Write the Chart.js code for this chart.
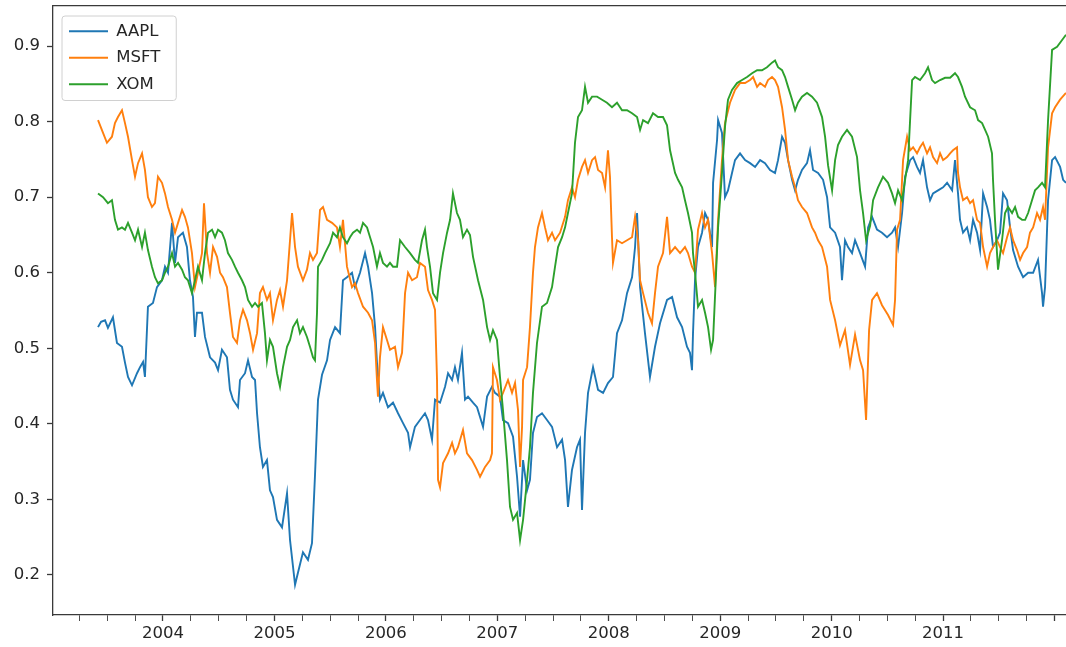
<!DOCTYPE html>
<html lang="en">
<head>
    <meta charset="UTF-8">
    <title>Rolling correlation</title>
    <script src="https://cdn.jsdelivr.net/npm/chart.js"></script>
    <style>
        body {
            margin: 0;
            background: #ffffff;
            overflow: hidden;
        }
        canvas {
            display: block;
        }
    </style>
</head>
<body>
<canvas id="corrChart" width="1066" height="647"></canvas>

<script>
    // [year, correlation]
    const aapl = [[2003.417,0.528],[2003.444,0.535],[2003.480,0.537],[2003.506,0.527],[2003.551,0.541],[2003.587,0.507],[2003.632,0.502],[2003.659,0.481],[2003.686,0.462],[2003.722,0.451],[2003.767,0.467],[2003.794,0.475],[2003.821,0.482],[2003.838,0.462],[2003.865,0.555],[2003.910,0.560],[2003.946,0.581],[2003.991,0.590],[2004.018,0.608],[2004.045,0.600],[2004.081,0.666],[2004.108,0.613],[2004.135,0.647],[2004.179,0.653],[2004.215,0.634],[2004.242,0.590],[2004.269,0.568],[2004.287,0.515],[2004.305,0.547],[2004.350,0.547],[2004.377,0.515],[2004.422,0.488],[2004.467,0.481],[2004.494,0.471],[2004.529,0.498],[2004.574,0.488],[2004.601,0.445],[2004.628,0.432],[2004.673,0.422],[2004.691,0.458],[2004.736,0.467],[2004.763,0.484],[2004.799,0.462],[2004.826,0.458],[2004.844,0.414],[2004.870,0.369],[2004.897,0.343],[2004.933,0.352],[2004.960,0.312],[2004.987,0.303],[2005.023,0.273],[2005.068,0.263],[2005.113,0.308],[2005.140,0.246],[2005.185,0.187],[2005.211,0.203],[2005.256,0.230],[2005.301,0.220],[2005.337,0.242],[2005.364,0.332],[2005.391,0.432],[2005.427,0.465],[2005.472,0.484],[2005.499,0.511],[2005.544,0.528],[2005.588,0.520],[2005.615,0.590],[2005.651,0.594],[2005.696,0.600],[2005.723,0.581],[2005.768,0.600],[2005.813,0.626],[2005.840,0.608],[2005.876,0.573],[2005.903,0.528],[2005.920,0.481],[2005.947,0.432],[2005.974,0.441],[2006.019,0.422],[2006.064,0.428],[2006.109,0.414],[2006.154,0.401],[2006.199,0.388],[2006.217,0.369],[2006.261,0.396],[2006.306,0.405],[2006.351,0.414],[2006.378,0.405],[2006.414,0.379],[2006.441,0.432],[2006.486,0.428],[2006.531,0.449],[2006.558,0.467],[2006.594,0.458],[2006.620,0.475],[2006.647,0.458],[2006.683,0.494],[2006.710,0.432],[2006.737,0.436],[2006.782,0.428],[2006.818,0.422],[2006.872,0.396],[2006.908,0.436],[2006.952,0.449],[2006.979,0.441],[2007.024,0.436],[2007.051,0.405],[2007.096,0.401],[2007.141,0.383],[2007.177,0.330],[2007.204,0.277],[2007.231,0.352],[2007.267,0.312],[2007.293,0.326],[2007.320,0.388],[2007.356,0.409],[2007.401,0.414],[2007.446,0.405],[2007.491,0.396],[2007.536,0.369],[2007.581,0.379],[2007.608,0.352],[2007.634,0.290],[2007.670,0.339],[2007.715,0.369],[2007.742,0.379],[2007.760,0.286],[2007.787,0.388],[2007.814,0.441],[2007.859,0.475],[2007.904,0.445],[2007.949,0.441],[2007.993,0.454],[2008.038,0.462],[2008.074,0.520],[2008.119,0.537],[2008.164,0.573],[2008.209,0.594],[2008.236,0.634],[2008.254,0.679],[2008.281,0.581],[2008.325,0.520],[2008.370,0.462],[2008.415,0.502],[2008.460,0.533],[2008.523,0.564],[2008.568,0.568],[2008.613,0.541],[2008.658,0.528],[2008.702,0.502],[2008.729,0.494],[2008.747,0.471],[2008.756,0.520],[2008.774,0.590],[2008.801,0.634],[2008.837,0.653],[2008.864,0.679],[2008.891,0.670],[2008.927,0.634],[2008.936,0.719],[2008.972,0.776],[2008.981,0.802],[2009.016,0.785],[2009.043,0.700],[2009.070,0.709],[2009.106,0.732],[2009.133,0.749],[2009.178,0.758],[2009.223,0.749],[2009.268,0.745],[2009.313,0.740],[2009.358,0.749],[2009.402,0.745],[2009.447,0.736],[2009.492,0.732],[2009.519,0.749],[2009.555,0.780],[2009.582,0.772],[2009.609,0.749],[2009.645,0.723],[2009.672,0.709],[2009.698,0.723],[2009.734,0.736],[2009.779,0.745],[2009.806,0.762],[2009.833,0.736],[2009.878,0.732],[2009.923,0.723],[2009.959,0.700],[2009.986,0.660],[2010.031,0.653],[2010.075,0.634],[2010.093,0.590],[2010.120,0.643],[2010.147,0.634],[2010.183,0.626],[2010.210,0.643],[2010.255,0.626],[2010.300,0.608],[2010.327,0.660],[2010.363,0.674],[2010.407,0.657],[2010.452,0.653],[2010.497,0.647],[2010.542,0.653],[2010.569,0.660],[2010.596,0.634],[2010.632,0.679],[2010.659,0.727],[2010.704,0.749],[2010.731,0.753],[2010.766,0.740],[2010.793,0.732],[2010.820,0.749],[2010.856,0.713],[2010.883,0.696],[2010.910,0.705],[2010.955,0.709],[2011.000,0.713],[2011.036,0.719],[2011.081,0.709],[2011.107,0.749],[2011.134,0.705],[2011.152,0.670],[2011.179,0.653],[2011.215,0.660],[2011.242,0.643],[2011.269,0.670],[2011.305,0.653],[2011.332,0.630],[2011.359,0.705],[2011.395,0.687],[2011.421,0.670],[2011.448,0.634],[2011.484,0.643],[2011.511,0.653],[2011.538,0.705],[2011.574,0.696],[2011.601,0.660],[2011.628,0.630],[2011.673,0.608],[2011.718,0.594],[2011.763,0.600],[2011.808,0.600],[2011.852,0.617],[2011.888,0.573],[2011.897,0.555],[2011.915,0.581],[2011.942,0.696],[2011.978,0.749],[2012.005,0.753],[2012.050,0.740],[2012.077,0.723],[2012.103,0.719]];

    const msft = [[2003.417,0.802],[2003.462,0.785],[2003.497,0.772],[2003.542,0.780],[2003.569,0.798],[2003.596,0.806],[2003.632,0.815],[2003.659,0.798],[2003.686,0.780],[2003.722,0.749],[2003.749,0.727],[2003.776,0.745],[2003.812,0.758],[2003.838,0.736],[2003.865,0.700],[2003.901,0.687],[2003.928,0.692],[2003.955,0.727],[2003.991,0.719],[2004.018,0.705],[2004.045,0.687],[2004.081,0.670],[2004.108,0.653],[2004.135,0.666],[2004.171,0.683],[2004.197,0.674],[2004.224,0.660],[2004.260,0.626],[2004.287,0.581],[2004.314,0.600],[2004.350,0.626],[2004.368,0.692],[2004.395,0.626],[2004.422,0.600],[2004.449,0.634],[2004.485,0.621],[2004.512,0.600],[2004.538,0.594],[2004.574,0.581],[2004.601,0.547],[2004.628,0.515],[2004.664,0.507],[2004.691,0.537],[2004.718,0.551],[2004.754,0.537],[2004.781,0.520],[2004.808,0.498],[2004.844,0.520],[2004.870,0.573],[2004.897,0.581],[2004.933,0.564],[2004.960,0.573],[2004.987,0.537],[2005.023,0.564],[2005.050,0.577],[2005.077,0.555],[2005.113,0.590],[2005.158,0.679],[2005.185,0.634],[2005.211,0.608],[2005.256,0.590],[2005.292,0.604],[2005.319,0.626],[2005.346,0.617],[2005.382,0.626],[2005.409,0.683],[2005.436,0.687],[2005.472,0.670],[2005.517,0.666],[2005.561,0.660],[2005.588,0.634],[2005.615,0.670],[2005.651,0.608],[2005.696,0.581],[2005.723,0.586],[2005.750,0.573],[2005.795,0.555],[2005.840,0.547],[2005.876,0.537],[2005.903,0.507],[2005.920,0.458],[2005.929,0.436],[2005.947,0.488],[2005.974,0.528],[2006.010,0.511],[2006.037,0.498],[2006.082,0.502],[2006.109,0.475],[2006.145,0.494],[2006.172,0.573],[2006.199,0.600],[2006.235,0.590],[2006.279,0.594],[2006.306,0.613],[2006.351,0.608],[2006.378,0.577],[2006.414,0.564],[2006.441,0.551],[2006.459,0.458],[2006.468,0.326],[2006.486,0.316],[2006.513,0.348],[2006.558,0.361],[2006.594,0.375],[2006.620,0.361],[2006.647,0.369],[2006.692,0.392],[2006.728,0.361],[2006.773,0.352],[2006.818,0.339],[2006.845,0.330],[2006.890,0.343],[2006.935,0.352],[2006.952,0.361],[2006.961,0.475],[2006.997,0.458],[2007.024,0.432],[2007.051,0.441],[2007.096,0.458],[2007.132,0.441],[2007.159,0.454],[2007.186,0.418],[2007.204,0.343],[2007.222,0.396],[2007.231,0.458],[2007.267,0.475],[2007.293,0.528],[2007.320,0.600],[2007.338,0.634],[2007.365,0.660],[2007.401,0.679],[2007.428,0.660],[2007.455,0.643],[2007.491,0.653],[2007.518,0.643],[2007.563,0.653],[2007.608,0.674],[2007.634,0.696],[2007.670,0.713],[2007.697,0.700],[2007.724,0.723],[2007.760,0.740],[2007.787,0.749],[2007.814,0.732],[2007.850,0.749],[2007.877,0.753],[2007.904,0.736],[2007.940,0.732],[2007.967,0.713],[2007.993,0.762],[2008.011,0.727],[2008.029,0.647],[2008.038,0.613],[2008.074,0.643],[2008.119,0.639],[2008.164,0.643],[2008.209,0.647],[2008.236,0.674],[2008.263,0.643],[2008.281,0.590],[2008.308,0.573],[2008.352,0.547],[2008.388,0.533],[2008.415,0.573],[2008.442,0.608],[2008.487,0.626],[2008.523,0.674],[2008.550,0.626],[2008.595,0.634],[2008.640,0.626],[2008.684,0.634],[2008.711,0.626],[2008.747,0.608],[2008.774,0.600],[2008.801,0.657],[2008.837,0.679],[2008.864,0.660],[2008.891,0.670],[2008.927,0.626],[2008.954,0.581],[2008.981,0.670],[2009.016,0.749],[2009.043,0.798],[2009.088,0.825],[2009.133,0.842],[2009.178,0.851],[2009.223,0.851],[2009.268,0.855],[2009.295,0.859],[2009.331,0.846],[2009.358,0.851],[2009.402,0.846],[2009.429,0.855],[2009.465,0.859],[2009.492,0.855],[2009.519,0.846],[2009.555,0.819],[2009.582,0.789],[2009.609,0.749],[2009.645,0.727],[2009.672,0.713],[2009.698,0.696],[2009.734,0.687],[2009.779,0.679],[2009.824,0.660],[2009.851,0.653],[2009.878,0.643],[2009.914,0.634],[2009.959,0.608],[2009.986,0.564],[2010.031,0.537],[2010.075,0.504],[2010.120,0.524],[2010.165,0.478],[2010.210,0.518],[2010.255,0.484],[2010.282,0.471],[2010.309,0.405],[2010.336,0.524],[2010.363,0.564],[2010.407,0.573],[2010.452,0.557],[2010.506,0.544],[2010.551,0.531],[2010.569,0.564],[2010.587,0.657],[2010.614,0.670],[2010.641,0.749],[2010.677,0.780],[2010.704,0.762],[2010.731,0.766],[2010.766,0.758],[2010.793,0.766],[2010.820,0.772],[2010.856,0.758],[2010.883,0.766],[2010.910,0.753],[2010.946,0.745],[2010.973,0.758],[2011.000,0.749],[2011.036,0.753],[2011.063,0.758],[2011.089,0.762],[2011.125,0.766],[2011.134,0.732],[2011.152,0.713],[2011.179,0.696],[2011.215,0.700],[2011.242,0.692],[2011.269,0.696],[2011.305,0.670],[2011.332,0.666],[2011.359,0.634],[2011.395,0.608],[2011.421,0.626],[2011.448,0.634],[2011.484,0.643],[2011.511,0.634],[2011.538,0.626],[2011.574,0.647],[2011.601,0.660],[2011.628,0.643],[2011.664,0.630],[2011.691,0.617],[2011.718,0.626],[2011.754,0.634],[2011.780,0.653],[2011.808,0.660],[2011.843,0.679],[2011.870,0.670],[2011.897,0.687],[2011.915,0.670],[2011.942,0.766],[2011.978,0.811],[2012.005,0.819],[2012.050,0.829],[2012.103,0.838]];

    const xom = [[2003.417,0.705],[2003.462,0.700],[2003.506,0.692],[2003.542,0.696],[2003.569,0.670],[2003.596,0.657],[2003.632,0.660],[2003.659,0.657],[2003.686,0.666],[2003.722,0.653],[2003.749,0.643],[2003.776,0.657],[2003.812,0.634],[2003.838,0.653],[2003.865,0.630],[2003.901,0.608],[2003.928,0.594],[2003.955,0.586],[2003.991,0.590],[2004.018,0.600],[2004.045,0.608],[2004.081,0.626],[2004.108,0.608],[2004.135,0.613],[2004.171,0.604],[2004.197,0.594],[2004.224,0.590],[2004.260,0.573],[2004.287,0.590],[2004.314,0.608],[2004.350,0.590],[2004.377,0.626],[2004.404,0.653],[2004.440,0.657],[2004.467,0.647],[2004.494,0.657],[2004.529,0.653],[2004.556,0.643],[2004.583,0.626],[2004.619,0.617],[2004.646,0.608],[2004.673,0.600],[2004.709,0.590],[2004.736,0.581],[2004.763,0.564],[2004.799,0.555],[2004.826,0.560],[2004.853,0.555],[2004.888,0.560],[2004.915,0.520],[2004.933,0.484],[2004.960,0.511],[2004.987,0.502],[2005.023,0.467],[2005.050,0.449],[2005.077,0.475],[2005.113,0.502],[2005.140,0.511],[2005.167,0.528],[2005.203,0.537],[2005.229,0.520],[2005.256,0.528],[2005.292,0.515],[2005.319,0.502],[2005.346,0.488],[2005.364,0.484],[2005.382,0.547],[2005.391,0.608],[2005.427,0.617],[2005.454,0.626],[2005.499,0.639],[2005.526,0.653],[2005.561,0.647],[2005.588,0.660],[2005.615,0.647],[2005.651,0.639],[2005.678,0.647],[2005.705,0.653],[2005.741,0.657],[2005.768,0.653],[2005.795,0.666],[2005.831,0.660],[2005.858,0.647],[2005.885,0.634],[2005.920,0.608],[2005.947,0.626],[2005.974,0.613],[2006.010,0.608],[2006.037,0.613],[2006.064,0.608],[2006.100,0.608],[2006.127,0.643],[2006.172,0.634],[2006.217,0.626],[2006.261,0.617],[2006.288,0.613],[2006.324,0.643],[2006.351,0.657],[2006.369,0.634],[2006.396,0.608],[2006.423,0.573],[2006.459,0.564],[2006.486,0.600],[2006.513,0.626],[2006.549,0.653],[2006.576,0.670],[2006.602,0.705],[2006.638,0.679],[2006.665,0.670],[2006.692,0.647],[2006.728,0.657],[2006.755,0.650],[2006.782,0.621],[2006.827,0.590],[2006.872,0.564],[2006.908,0.528],[2006.935,0.511],[2006.961,0.524],[2006.997,0.511],[2007.024,0.462],[2007.051,0.418],[2007.087,0.352],[2007.114,0.290],[2007.141,0.273],[2007.177,0.282],[2007.204,0.246],[2007.231,0.273],[2007.267,0.326],[2007.293,0.369],[2007.320,0.441],[2007.356,0.507],[2007.401,0.555],[2007.446,0.560],[2007.491,0.581],[2007.518,0.608],[2007.545,0.634],[2007.581,0.647],[2007.608,0.660],[2007.634,0.679],[2007.670,0.705],[2007.697,0.772],[2007.724,0.806],[2007.760,0.815],[2007.787,0.846],[2007.814,0.825],[2007.850,0.833],[2007.895,0.833],[2007.940,0.829],[2007.984,0.825],[2008.029,0.819],[2008.074,0.825],[2008.119,0.815],[2008.164,0.815],[2008.209,0.811],[2008.254,0.806],[2008.281,0.789],[2008.308,0.802],[2008.352,0.798],[2008.397,0.811],[2008.442,0.806],[2008.487,0.806],[2008.523,0.795],[2008.550,0.762],[2008.595,0.732],[2008.622,0.723],[2008.658,0.713],[2008.684,0.696],[2008.711,0.679],[2008.747,0.653],[2008.756,0.626],[2008.774,0.600],[2008.801,0.555],[2008.837,0.564],[2008.864,0.547],[2008.891,0.528],[2008.918,0.498],[2008.936,0.511],[2008.963,0.600],[2008.981,0.660],[2009.016,0.732],[2009.043,0.793],[2009.070,0.829],[2009.106,0.842],[2009.151,0.851],[2009.196,0.855],[2009.241,0.859],[2009.286,0.864],[2009.331,0.868],[2009.375,0.868],[2009.420,0.872],[2009.465,0.878],[2009.492,0.881],[2009.519,0.872],[2009.555,0.868],[2009.582,0.859],[2009.609,0.846],[2009.645,0.829],[2009.672,0.815],[2009.698,0.825],[2009.734,0.833],[2009.779,0.838],[2009.824,0.833],[2009.869,0.825],[2009.914,0.806],[2009.941,0.780],[2009.968,0.742],[2010.004,0.709],[2010.031,0.749],[2010.057,0.769],[2010.093,0.780],[2010.138,0.789],[2010.183,0.780],[2010.228,0.753],[2010.255,0.709],[2010.282,0.679],[2010.309,0.643],[2010.345,0.662],[2010.372,0.696],[2010.416,0.713],[2010.461,0.727],[2010.506,0.719],[2010.542,0.705],[2010.569,0.692],[2010.596,0.709],[2010.632,0.696],[2010.659,0.723],[2010.686,0.749],[2010.722,0.855],[2010.748,0.859],[2010.793,0.855],[2010.838,0.864],[2010.865,0.872],[2010.901,0.855],[2010.928,0.851],[2010.973,0.855],[2011.018,0.858],[2011.063,0.858],[2011.107,0.864],[2011.134,0.859],[2011.170,0.846],[2011.197,0.833],[2011.242,0.819],[2011.287,0.815],[2011.314,0.802],[2011.350,0.798],[2011.377,0.789],[2011.404,0.780],[2011.439,0.758],[2011.448,0.723],[2011.466,0.670],[2011.484,0.626],[2011.493,0.604],[2011.529,0.643],[2011.556,0.679],[2011.583,0.687],[2011.619,0.679],[2011.646,0.687],[2011.673,0.674],[2011.709,0.670],[2011.736,0.670],[2011.763,0.679],[2011.798,0.696],[2011.825,0.709],[2011.852,0.713],[2011.888,0.719],[2011.915,0.713],[2011.942,0.802],[2011.978,0.895],[2012.023,0.899],[2012.068,0.908],[2012.103,0.915]];

    const seriesNames = ['AAPL', 'MSFT', 'XOM'];
    const yearLabels = [2004, 2005, 2006, 2007, 2008, 2009, 2010, 2011];
    const yTickValues = [0.2, 0.3, 0.4, 0.5, 0.6, 0.7, 0.8, 0.9];
    const xRange = [2003.013, 2012.103];
    const yRange = [0.147, 0.953];

    const fontFamily = "'DejaVu Sans', sans-serif";
    const axisColor = '#3a3a3a';
    const textColor = '#262626';

    // quarterly minor ticks, years get a label
    const quarterTicks = [];
    for (let q = 2003.25; q <= 2012.0001; q += 0.25) {
        quarterTicks.push(Math.round(q * 100) / 100);
    }

    const legendFrame = {
        id: 'legendFrame',
        afterLayout(chart) {
            const area = chart.chartArea;
            chart.legend.left = area.left + 6;
            chart.legend.top = area.top + 7;
        },
        beforeDraw(chart) {
            const boxes = chart.legend.legendHitBoxes;
            if (!boxes || !boxes.length) return;
            const first = boxes[0];
            const last = boxes[boxes.length - 1];
            const right = Math.max(...boxes.map(b => b.left + b.width));
            const ctx = chart.ctx;
            ctx.save();
            ctx.beginPath();
            ctx.roundRect(first.left - 7, first.top - 7, right - first.left + 23, last.top + last.height - first.top + 15, 3);
            ctx.fillStyle = 'rgba(255,255,255,0.8)';
            ctx.fill();
            ctx.strokeStyle = '#d0d0d0';
            ctx.lineWidth = 1;
            ctx.stroke();
            ctx.restore();
        }
    };

    const colors = ['#1f77b4', '#ff7f0e', '#2ca02c'];
    const values = [aapl, msft, xom];

    new Chart(document.getElementById('corrChart').getContext('2d'), {
        type: 'line',
        data: {
            datasets: values.map((data, i) => ({
                label: seriesNames[i],
                data: data,
                borderColor: colors[i],
                backgroundColor: colors[i],
                borderWidth: 1.9,
                pointRadius: 0,
                tension: 0,
                order: values.length - i
            }))
        },
        options: {
            responsive: false,
            animation: false,
            devicePixelRatio: 1,
            events: [],
            layout: { padding: 0 },
            scales: {
                x: {
                    type: 'linear',
                    position: 'bottom',
                    min: xRange[0],
                    max: xRange[1],
                    afterBuildTicks: scale => {
                        scale.ticks = quarterTicks.map(v => ({ value: v }));
                    },
                    afterFit: scale => {
                        scale.height = 32;
                        scale.paddingLeft = 0;
                        scale.paddingRight = 0;
                    },
                    grid: {
                        drawOnChartArea: false,
                        drawTicks: true,
                        tickLength: 6,
                        tickColor: axisColor,
                        tickWidth: c => Number.isInteger(c.tick && c.tick.value) ? 1.3 : 0.9
                    },
                    border: { color: axisColor, width: 1.3 },
                    ticks: {
                        autoSkip: false,
                        maxRotation: 0,
                        padding: 3,
                        color: textColor,
                        font: { family: fontFamily, size: 16.5 },
                        callback: v => yearLabels.includes(v) ? String(v) : ''
                    }
                },
                xTop: {
                    type: 'linear',
                    axis: 'x',
                    position: 'top',
                    display: true,
                    min: xRange[0],
                    max: xRange[1],
                    afterFit: scale => {
                        scale.height = 6;
                        scale.paddingLeft = 0;
                        scale.paddingRight = 0;
                    },
                    grid: { display: false, drawTicks: false },
                    ticks: { display: false },
                    border: { display: true, color: axisColor, width: 1.3 }
                },
                y: {
                    min: yRange[0],
                    max: yRange[1],
                    afterBuildTicks: scale => {
                        scale.ticks = yTickValues.map(v => ({ value: v }));
                    },
                    afterFit: scale => {
                        scale.width = 53;
                        scale.paddingTop = 0;
                        scale.paddingBottom = 0;
                    },
                    grid: {
                        drawOnChartArea: false,
                        tickLength: 6,
                        tickColor: axisColor,
                        tickWidth: 1.3
                    },
                    border: { color: axisColor, width: 1.3 },
                    ticks: {
                        padding: 7,
                        color: textColor,
                        font: { family: fontFamily, size: 16.5 },
                        callback: v => v.toFixed(1)
                    }
                }
            },
            plugins: {
                tooltip: { enabled: false },
                legend: {
                    position: 'chartArea',
                    align: 'start',
                    labels: {
                        usePointStyle: true,
                        pointStyle: 'line',
                        pointStyleWidth: 39,
                        padding: 10,
                        color: textColor,
                        font: { family: fontFamily, size: 16.5 },
                        sort: (a, b) => a.datasetIndex - b.datasetIndex
                    }
                }
            }
        },
        plugins: [legendFrame]
    });
</script>
</body>
</html>
